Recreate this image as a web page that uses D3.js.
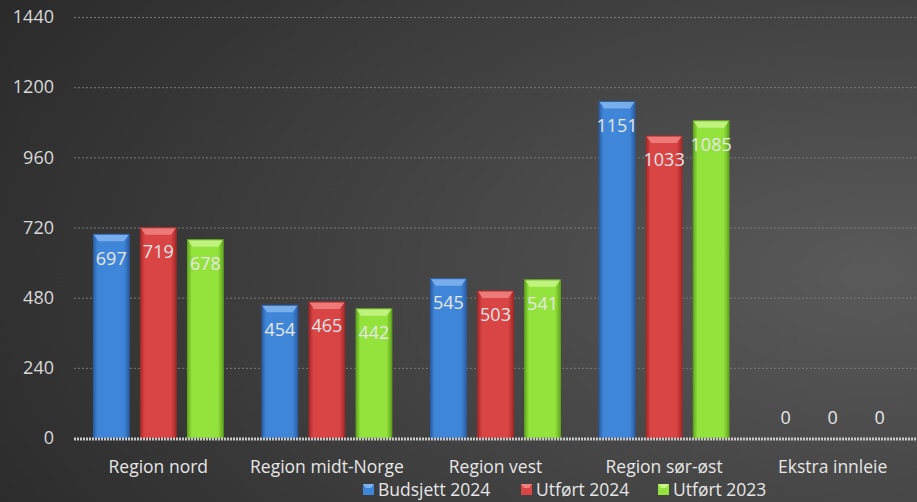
<!DOCTYPE html>
<html>
<head>
<meta charset="utf-8">
<script src="https://cdn.jsdelivr.net/npm/d3@7"></script>
<style>
  html, body { margin: 0; padding: 0; background: #333; }
  svg { display: block; font-family: "Open Sans", "Noto Sans", sans-serif; }
</style>
</head>
<body>
<div id="chart"></div>
<script>
// data
const categories = ["Region nord", "Region midt-Norge", "Region vest", "Region sør-øst", "Ekstra innleie"];
const seriesNames = ["Budsjett 2024", "Utført 2024", "Utført 2023"];
const budsjett2024 = [697, 454, 545, 1151, 0];
const utfort2024 = [719, 465, 503, 1033, 0];
const utfort2023 = [678, 442, 541, 1085, 0];
const yTicks = [0, 240, 480, 720, 960, 1200, 1440];

const seriesValues = [budsjett2024, utfort2024, utfort2023];
const colors = [
  { mid: "#3f86d8", edge: "#2a5fa8", top: "#7fb2ee" },
  { mid: "#d94444", edge: "#a82828", top: "#f08080" },
  { mid: "#94e23c", edge: "#62a81e", top: "#c4f585" }
];

const width = 917, height = 502;
const margin = { top: 17, right: 0, bottom: 64, left: 74 };

const svg = d3.select("#chart").append("svg")
  .attr("width", width)
  .attr("height", height);

const defs = svg.append("defs");

// background
const bg = defs.append("radialGradient")
  .attr("id", "bg")
  .attr("cx", "95%").attr("cy", "55%").attr("r", "115%");
bg.append("stop").attr("offset", "0%").attr("stop-color", "#5a5a5a");
bg.append("stop").attr("offset", "100%").attr("stop-color", "#282828");
svg.append("rect").attr("width", width).attr("height", height).attr("fill", "url(#bg)");

// bar gradients
colors.forEach((c, i) => {
  const g = defs.append("linearGradient").attr("id", "bar" + i)
    .attr("x1", "0%").attr("x2", "100%").attr("y1", "0%").attr("y2", "0%");
  g.append("stop").attr("offset", "0%").attr("stop-color", c.edge);
  g.append("stop").attr("offset", "12%").attr("stop-color", c.mid);
  g.append("stop").attr("offset", "85%").attr("stop-color", c.mid);
  g.append("stop").attr("offset", "100%").attr("stop-color", c.edge);
});

const x0 = d3.scaleBand()
  .domain(categories)
  .range([margin.left, width - margin.right])
  .paddingInner(0.23)
  .paddingOuter(0.115);

const x1 = d3.scaleBand()
  .domain(d3.range(seriesNames.length))
  .range([0, x0.bandwidth()])
  .paddingInner(0.24);

const y = d3.scaleLinear()
  .domain([0, 1440])
  .range([height - margin.bottom, margin.top]);

// gridlines
svg.append("g")
  .selectAll("line")
  .data(yTicks.filter(d => d > 0))
  .join("line")
  .attr("x1", margin.left)
  .attr("x2", width - margin.right)
  .attr("y1", d => y(d) + 0.5)
  .attr("y2", d => y(d) + 0.5)
  .attr("stroke", "#7a7a7a")
  .attr("stroke-width", 1)
  .attr("stroke-dasharray", "2,2");

// y axis labels
svg.append("g")
  .selectAll("text")
  .data(yTicks)
  .join("text")
  .attr("x", 54)
  .attr("y", d => y(d))
  .attr("dy", "0.35em")
  .attr("text-anchor", "end")
  .attr("fill", "#d9d9d9")
  .style("font-size", "18px")
  .text(d => d);

// bars
const groups = svg.append("g")
  .selectAll("g")
  .data(categories)
  .join("g")
  .attr("transform", d => `translate(${x0(d)},0)`);

groups.each(function (cat, ci) {
  const g = d3.select(this);
  seriesValues.forEach((vals, si) => {
    const v = vals[ci];
    const bx = x1(si), bw = x1.bandwidth();
    const by = y(v), bh = y(0) - y(v);
    if (bh > 0) {
      g.append("rect")
        .attr("x", bx).attr("y", by)
        .attr("width", bw).attr("height", bh)
        .attr("fill", `url(#bar${si})`);
      // top bevel
      const bev = Math.min(7, bh);
      g.append("path")
        .attr("d", `M${bx},${by} L${bx + bw},${by} L${bx + bw - 5},${by + bev} L${bx + 5},${by + bev} Z`)
        .attr("fill", colors[si].top)
        .attr("opacity", 0.9);
      g.append("rect")
        .attr("x", bx).attr("y", by)
        .attr("width", bw).attr("height", bh)
        .attr("fill", "none")
        .attr("stroke", colors[si].edge)
        .attr("stroke-width", 1);
    }
    g.append("text")
      .attr("x", bx + bw / 2)
      .attr("y", bh > 0 ? by + 24 : y(0) - 20)
      .attr("dy", "0.35em")
      .attr("text-anchor", "middle")
      .attr("fill", "#e6e6e6")
      .style("font-size", "18px")
      .text(v);
  });
});

// zero axis line
svg.append("line")
  .attr("x1", margin.left).attr("x2", width - margin.right)
  .attr("y1", y(0) + 1).attr("y2", y(0) + 1)
  .attr("stroke", "#c8c8c8")
  .attr("stroke-width", 3)
  .attr("stroke-dasharray", "2,1");

// category labels
svg.append("g")
  .selectAll("text")
  .data(categories)
  .join("text")
  .attr("x", d => x0(d) + x0.bandwidth() / 2)
  .attr("y", 467)
  .attr("dy", "0.35em")
  .attr("text-anchor", "middle")
  .attr("fill", "#e6e6e6")
  .style("font-size", "17.5px")
  .text(d => d);

// legend
const legendX = [363, 521, 658];
const legend = svg.append("g")
  .selectAll("g")
  .data(seriesNames)
  .join("g")
  .attr("transform", (d, i) => `translate(${legendX[i]},490)`);

legend.append("rect")
  .attr("x", 0).attr("y", -6)
  .attr("width", 11).attr("height", 11)
  .attr("fill", (d, i) => colors[i].mid);
legend.append("path")
  .attr("d", "M0,-6 L11,-6 L8,-2 L3,-2 Z")
  .attr("fill", (d, i) => colors[i].top);
legend.append("text")
  .attr("x", 15)
  .attr("y", 0)
  .attr("dy", "0.35em")
  .attr("fill", "#e6e6e6")
  .style("font-size", "17.5px")
  .text(d => d);
</script>
</body>
</html>
